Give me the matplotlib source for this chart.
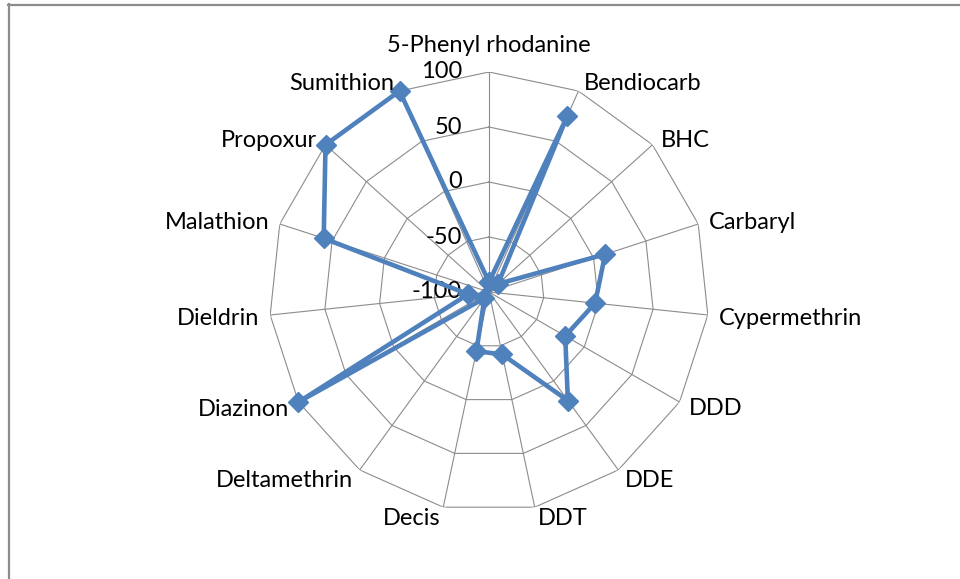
import numpy as np
import matplotlib
matplotlib.use("Agg")
import matplotlib.pyplot as plt
from matplotlib.lines import Line2D

plt.rcParams['font.family'] = ['Lato', 'DejaVu Sans']

categories = ['5-Phenyl rhodanine', 'Bendiocarb', 'BHC', 'Carbaryl', 'Cypermethrin',
              'DDD', 'DDE', 'DDT', 'Decis', 'Deltamethrin', 'Diazinon', 'Dieldrin',
              'Malathion', 'Propoxur', 'Sumithion']
values = [-91, 75, -89, 11, -3, -20, 22, -42, -45, -93, 100, -81, 58, 100, 100]
rings = [-50, 0, 50, 100]
tick_labels = ['100', '50', '0', '-50', '-100']
tick_values = [100, 50, 0, -50, -100]

blue = '#4F81BD'
grid_col = '#8C8C8C'
fontsize = 17

fig = plt.figure(figsize=(9.6, 5.79), dpi=100)
fig.patch.set_facecolor('white')

# chart area border (only top and left visible in the crop)
fig.add_artist(Line2D([8 / 960, 1], [1 - 5 / 579, 1 - 5 / 579], color=grid_col, lw=1.6,
                      transform=fig.transFigure))
fig.add_artist(Line2D([9 / 960, 9 / 960], [0, 1 - 4 / 579], color=grid_col, lw=1.6,
                      transform=fig.transFigure))

cx, cy, R = 489 / 960, 1 - 292 / 579, 220
ax = fig.add_axes([cx - R / 960, cy - R / 579, 2 * R / 960, 2 * R / 579], projection='polar')
ax.set_theta_zero_location('N')
ax.set_theta_direction(-1)
ax.set_ylim(-100, 100)
ax.grid(False)
ax.set_xticks([])
ax.set_yticks([])
ax.spines['polar'].set_visible(False)
ax.patch.set_alpha(0)

n = len(categories)
theta = np.arange(n) * 2 * np.pi / n
theta_c = np.append(theta, theta[0])

# polygon gridlines
for r in rings:
    ax.plot(theta_c, [r] * (n + 1), color=grid_col, lw=0.8, zorder=1)
for t in theta:
    ax.plot([t, t], [-100, 100], color=grid_col, lw=0.8, zorder=1)

# data series
vals_c = values + [values[0]]
ax.plot(theta_c, vals_c, color=blue, lw=3.3, marker='D', ms=10, zorder=3,
        solid_joinstyle='miter', clip_on=False)

# category labels
for t, name in zip(theta, categories):
    s, c = np.sin(t), np.cos(t)
    if abs(s) < 0.05:
        ha, dx, dy = 'center', 0, 27
    else:
        ha = 'left' if s > 0 else 'right'
        dx = (10 * abs(s) + 1) * np.sign(s)
        dy = 10 * c - 2
    ax.annotate(name, xy=(t, 100), xytext=(dx * 0.72, dy * 0.72),
                textcoords='offset points', ha=ha, va='center',
                fontsize=fontsize, color='black', annotation_clip=False)

# radial axis labels
for v, lab in zip(tick_values, tick_labels):
    ax.annotate(lab, xy=(0, v), xytext=(-27 * 0.72, 0), textcoords='offset points',
                ha='right', va='center', fontsize=fontsize, color='black',
                annotation_clip=False, zorder=2)

fig.savefig('out.png', dpi=100)
